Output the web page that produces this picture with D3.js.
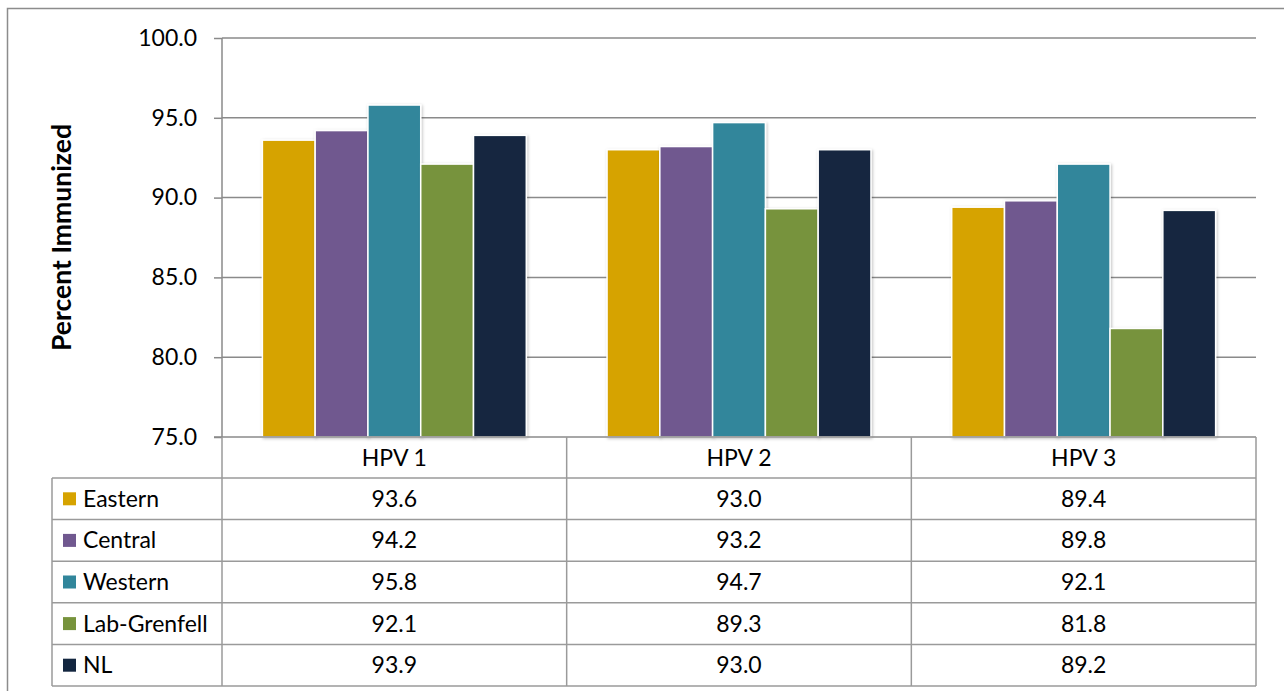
<!DOCTYPE html>
<html>
<head>
<meta charset="utf-8">
<script src="https://cdn.jsdelivr.net/npm/d3@7"></script>
<style>
  html, body { margin: 0; padding: 0; background: #fff; }
  svg { display: block; font-family: Lato, "Open Sans", sans-serif; }
</style>
</head>
<body>
<svg id="chart" width="1284" height="691"></svg>
<script>
// Doses and regions
const doses = ["HPV 1", "HPV 2", "HPV 3"];
const regions = ["Eastern", "Central", "Western", "Lab-Grenfell", "NL"];
const regionColors = ["#D6A300", "#70588F", "#31869B", "#77933C", "#13263F"];

// Percent immunized per region, one value per dose
const eastern     = [93.6, 93.0, 89.4];
const central     = [94.2, 93.2, 89.8];
const western     = [95.8, 94.7, 92.1];
const labGrenfell = [92.1, 89.3, 81.8];
const nl          = [93.9, 93.0, 89.2];

const yTicks = [75, 80, 85, 90, 95, 100];
const yLabel = "Percent Immunized";

const seriesValues = [eastern, central, western, labGrenfell, nl];

const svg = d3.select("#chart");
const W = 1284, H = 691;
const textSize = 23;

// Outer chart frame
svg.append("rect")
  .attr("x", 7.5).attr("y", 8.5)
  .attr("width", W).attr("height", H)
  .attr("fill", "none").attr("stroke", "#8c8c8c").attr("stroke-width", 1.5);

const plot = { left: 222, right: 1256, top: 38, bottom: 437 };

const x0 = d3.scaleBand().domain(doses).range([plot.left, plot.right]).padding(0);
const x1 = d3.scaleBand().domain(regions).range([0, x0.bandwidth()])
  .paddingInner(0).paddingOuter(0.765);
const y = d3.scaleLinear().domain([75, 100]).range([plot.bottom, plot.top]);

const gridColor = "#8a8a8a";

// Horizontal gridlines
svg.append("g").selectAll("line")
  .data(yTicks.filter(t => t > 75))
  .join("line")
  .attr("x1", plot.left).attr("x2", plot.right)
  .attr("y1", d => y(d)).attr("y2", d => y(d))
  .attr("stroke", gridColor).attr("stroke-width", 1.5);

// Y axis
const yAxis = d3.axisLeft(y).tickValues(yTicks).tickFormat(d3.format(".1f")).tickSize(8).tickPadding(17);
const gy = svg.append("g").attr("transform", `translate(${plot.left},0)`).call(yAxis);
gy.select(".domain").remove();
gy.selectAll(".tick line").attr("stroke", gridColor).attr("stroke-width", 1.5);
gy.selectAll(".tick text").attr("font-size", textSize).attr("fill", "#000")
  .attr("font-family", "Lato, 'Open Sans', sans-serif");
svg.append("line")
  .attr("x1", plot.left).attr("x2", plot.left)
  .attr("y1", plot.top).attr("y2", plot.bottom)
  .attr("stroke", gridColor).attr("stroke-width", 1.5);

// Y axis title
svg.append("text")
  .attr("transform", `translate(71,${(plot.top + plot.bottom) / 2}) rotate(-90)`)
  .attr("text-anchor", "middle")
  .attr("font-size", 26.5).attr("font-weight", "bold")
  .text(yLabel);

// Soft shadow under bars
const defs = svg.append("defs");
const f = defs.append("filter").attr("id", "shadow")
  .attr("x", "-20%").attr("y", "-5%").attr("width", "140%").attr("height", "110%");
f.append("feDropShadow").attr("dx", 1).attr("dy", 1).attr("stdDeviation", 1.5)
  .attr("flood-color", "#000").attr("flood-opacity", 0.25);

// Bars
const barData = [];
doses.forEach((dose, di) => {
  regions.forEach((reg, ri) => {
    barData.push({ dose, reg, ri, value: seriesValues[ri][di] });
  });
});

svg.append("g").selectAll("rect")
  .data(barData)
  .join("rect")
  .attr("x", d => x0(d.dose) + x1(d.reg))
  .attr("y", d => y(d.value))
  .attr("width", x1.bandwidth())
  .attr("height", d => y(75) - y(d.value))
  .attr("fill", d => regionColors[d.ri])
  .attr("stroke", "#fff").attr("stroke-width", 1.5)
  .attr("filter", "url(#shadow)");

// Data table beneath the plot
const headerTop = plot.bottom;
const headerH = 41;
const rowH = 41.6;
const legendLeft = 52;
const tableColor = "#9a9a9a";
const tbl = svg.append("g");

// Horizontal rules
tbl.append("line")
  .attr("x1", plot.left - 8).attr("x2", plot.right)
  .attr("y1", headerTop).attr("y2", headerTop)
  .attr("stroke", gridColor).attr("stroke-width", 1.5);
d3.range(regions.length + 1).forEach(i => {
  const yy = headerTop + headerH + i * rowH;
  tbl.append("line")
    .attr("x1", legendLeft).attr("x2", plot.right)
    .attr("y1", yy).attr("y2", yy)
    .attr("stroke", tableColor).attr("stroke-width", 1.5);
});
const tableBottom = headerTop + headerH + regions.length * rowH;

// Vertical rules
tbl.append("line")
  .attr("x1", legendLeft).attr("x2", legendLeft)
  .attr("y1", headerTop + headerH).attr("y2", tableBottom)
  .attr("stroke", tableColor).attr("stroke-width", 1.5);
const colEdges = doses.map(d => x0(d)).concat([plot.right]);
colEdges.forEach(cx => {
  tbl.append("line")
    .attr("x1", cx).attr("x2", cx)
    .attr("y1", headerTop).attr("y2", tableBottom)
    .attr("stroke", tableColor).attr("stroke-width", 1.5);
});

// Header labels
tbl.selectAll("text.hdr")
  .data(doses)
  .join("text")
  .attr("class", "hdr")
  .attr("x", d => x0(d) + x0.bandwidth() / 2)
  .attr("y", headerTop + headerH / 2)
  .attr("dy", "0.35em")
  .attr("text-anchor", "middle")
  .attr("font-size", textSize)
  .text(d => d);

// Legend rows and values
regions.forEach((reg, ri) => {
  const cy = headerTop + headerH + ri * rowH + rowH / 2;
  tbl.append("rect")
    .attr("x", 63).attr("y", cy - 6.5)
    .attr("width", 13).attr("height", 13)
    .attr("fill", regionColors[ri]);
  tbl.append("text")
    .attr("x", 83).attr("y", cy).attr("dy", "0.35em")
    .attr("font-size", textSize)
    .text(reg);
  doses.forEach((dose, di) => {
    tbl.append("text")
      .attr("x", x0(dose) + x0.bandwidth() / 2)
      .attr("y", cy).attr("dy", "0.35em")
      .attr("text-anchor", "middle")
      .attr("font-size", textSize)
      .text(d3.format(".1f")(seriesValues[ri][di]));
  });
});
</script>
</body>
</html>
